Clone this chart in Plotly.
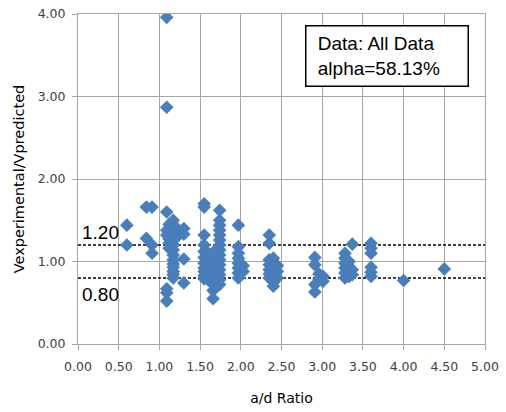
import plotly.graph_objects as go

# a/d ratio groups and measured ratios
ad_groups = [0.60, 0.84, 0.91, 1.09, 1.12, 1.17, 1.22, 1.30, 1.55, 1.60, 1.66, 1.70, 1.74,
             1.97, 2.03, 2.35, 2.40, 2.45, 2.91, 2.96, 3.01, 3.28, 3.33, 3.37, 3.60, 4.00, 4.50]
ratio_groups = [
    [1.44, 1.20],
    [1.66, 1.28],
    [1.66, 1.20, 1.10],
    [3.96, 2.87, 1.60, 1.38, 1.32, 0.67, 0.62, 0.52],
    [1.45, 1.35, 1.30, 1.27, 1.22, 1.16],
    [1.50, 1.40, 1.33, 1.26, 1.20, 1.14, 1.08, 1.02, 0.97, 0.93, 0.88, 0.84, 0.80],
    [1.40, 1.30],
    [1.40, 1.33, 1.03, 0.74],
    [1.70, 1.66, 1.32, 1.20, 1.12, 1.05, 0.98, 0.92, 0.88, 0.83, 0.79],
    [1.10, 1.02, 0.95, 0.90, 0.85, 0.78],
    [1.00, 0.92, 0.85, 0.72, 0.65, 0.55],
    [1.15, 1.05, 0.96, 0.88, 0.80],
    [1.62, 1.50, 1.44, 1.38, 1.32, 1.26, 1.20, 1.14, 1.08, 1.02, 0.96, 0.90, 0.84, 0.78, 0.72],
    [1.44, 1.18, 1.10, 1.04, 0.98, 0.92, 0.86, 0.80],
    [0.95, 0.88],
    [1.32, 1.22, 1.02, 0.96, 0.90, 0.85, 0.80],
    [1.04, 0.98, 0.92, 0.86, 0.80, 0.75, 0.70],
    [0.95, 0.88, 0.80],
    [1.05, 0.96, 0.72, 0.63],
    [0.85, 0.78],
    [0.82, 0.76],
    [1.10, 1.04, 0.98, 0.92, 0.86, 0.80],
    [1.00, 0.94, 0.88, 0.82],
    [1.21, 0.90, 0.84],
    [1.22, 1.16, 1.10, 0.93, 0.87, 0.82],
    [0.77],
    [0.91],
]
limit_values = [1.20, 0.80]
limit_labels = ["1.20", "0.80"]
x_ticks = [0, 0.5, 1, 1.5, 2, 2.5, 3, 3.5, 4, 4.5, 5]
y_ticks = [0, 1, 2, 3, 4]

xs, ys = [], []
for a, grp in zip(ad_groups, ratio_groups):
    for v in grp:
        xs.append(a)
        ys.append(v)

fig = go.Figure()
for v in limit_values:
    fig.add_trace(go.Scatter(x=[0, 5], y=[v, v], mode="lines",
                             line=dict(color="black", width=1.3, dash="3px,2px"),
                             hoverinfo="skip", showlegend=False))
fig.add_trace(go.Scatter(x=xs, y=ys, mode="markers",
                         marker=dict(symbol="diamond", size=10.5, color="#4A7EBB"),
                         showlegend=False))

for v, lab in zip(limit_values, limit_labels):
    fig.add_annotation(x=0.02, y=v, xref="x", yref="y", text=lab, showarrow=False,
                       xanchor="left", yanchor="bottom" if v > 1 else "top",
                       yshift=0 if v > 1 else -4,
                       font=dict(family="Liberation Sans, Arial", size=19, color="black"))

fig.add_annotation(xref="paper", yref="paper", x=0.558, y=0.967, xanchor="left", yanchor="top",
                   text="&nbsp;Data: All Data<br>&nbsp;alpha=58.13%", showarrow=False, align="left",
                   valign="middle", width=149, height=47,
                   bordercolor="black", borderwidth=1.5, borderpad=6, bgcolor="white",
                   font=dict(family="Liberation Sans, Arial", size=19, color="black"))

axis_common = dict(showgrid=True, gridcolor="#A6A6A6", gridwidth=1, showline=True,
                   linecolor="#A6A6A6", linewidth=1, mirror=True, ticks="outside",
                   ticklen=5, tickcolor="#A6A6A6", zeroline=False, automargin=False,
                   tickfont=dict(family="DejaVu Sans", size=12.5, color="#404040"))
fig.update_xaxes(range=[0, 5], tickvals=x_ticks, tickformat=".2f", ticklabelstandoff=6,
                 title=dict(text="a/d Ratio", font=dict(family="DejaVu Sans", size=14, color="black"), standoff=20),
                 **axis_common)
fig.update_yaxes(range=[0, 4], tickvals=y_ticks, tickformat=".2f", ticklabelstandoff=4,
                 title=dict(text="Vexperimental/Vpredicted", font=dict(family="DejaVu Sans", size=14.5, color="black"), standoff=9),
                 **axis_common)
fig.update_layout(width=506, height=412, margin=dict(l=78, r=21, t=14, b=68),
                  plot_bgcolor="white", paper_bgcolor="white")
# remove the default 8px page margin so the figure fills the window exactly
fig.write_html("out.html", config={"displayModeBar": False},
               post_script="document.body.style.margin='0';document.body.style.overflow='hidden';")
